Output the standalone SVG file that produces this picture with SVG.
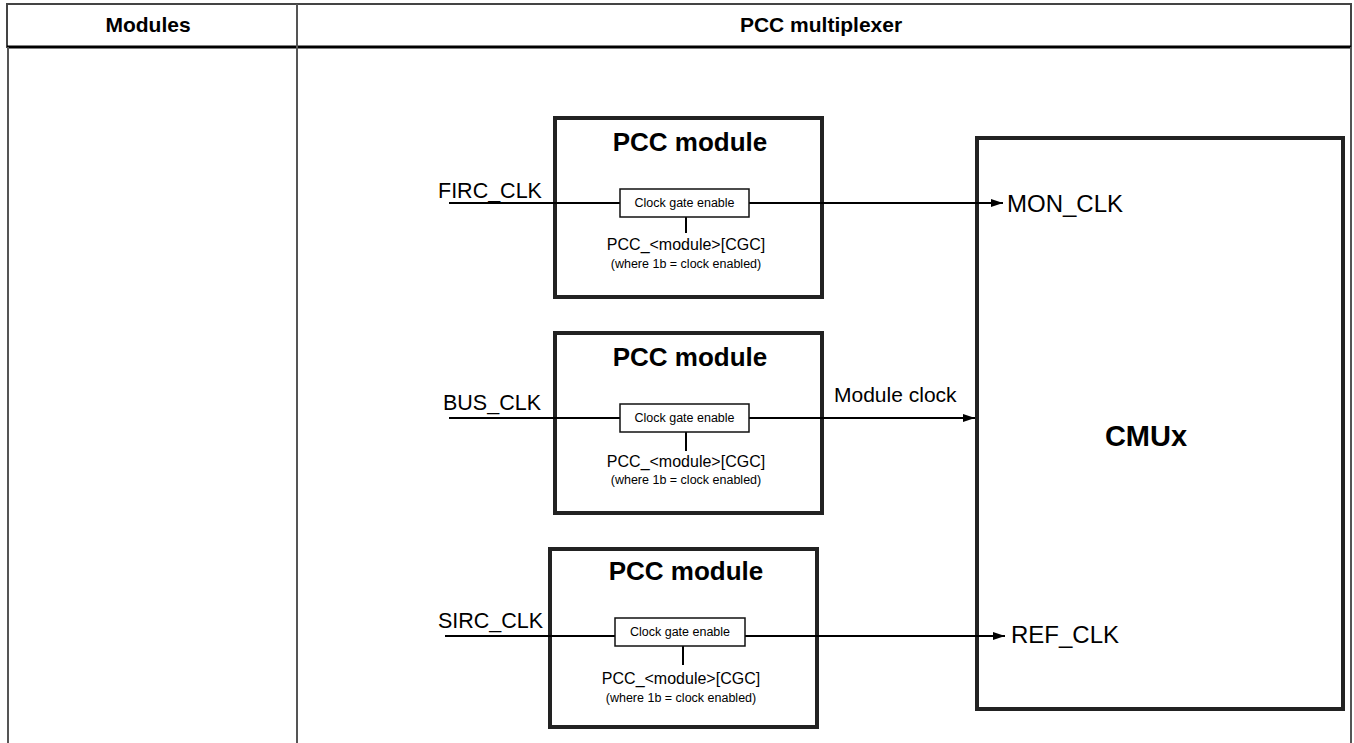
<svg xmlns="http://www.w3.org/2000/svg" width="1354" height="743" viewBox="0 0 1354 743">
<style>
text{font-family:"Liberation Sans",Arial,sans-serif;fill:#000}
.hdr{font-size:21px;font-weight:bold;text-anchor:middle}
.title{font-size:26px;font-weight:bold;text-anchor:middle}
.sig{font-size:21.5px}
.big{font-size:24px}
.gate{font-size:12.5px;text-anchor:middle}
.reg{font-size:16px;text-anchor:middle}
.note{font-size:12.5px;text-anchor:middle}
.box{fill:#fff;stroke:#222;stroke-width:4}
.gbox{fill:#fff;stroke:#111;stroke-width:1.5}
.wire{stroke:#000;stroke-width:2;fill:none}
.tbl{stroke:#555;stroke-width:2;fill:none}
</style>
<defs>
<marker id="arr" markerWidth="12" markerHeight="10" refX="12" refY="5" orient="auto" markerUnits="userSpaceOnUse">
<path d="M0,1 L12,5 L0,9 Z" fill="#000"/>
</marker>
</defs>
<rect width="1354" height="743" fill="#fff"/>
<g id="table">
<rect x="7" y="4" width="1344" height="43" fill="none" stroke="#444" stroke-width="2"/>
<line x1="7" y1="47" x2="1351" y2="47" stroke="#000" stroke-width="3"/>
<line class="tbl" x1="8" y1="47" x2="8" y2="743"/>
<line class="tbl" x1="297" y1="4" x2="297" y2="743"/>
<line class="tbl" x1="1351" y1="47" x2="1351" y2="743"/>
<text class="hdr" x="148" y="32">Modules</text>
<text class="hdr" x="821" y="32">PCC multiplexer</text>
</g>
<g id="pcc1">
<rect class="box" x="555" y="118" width="267" height="179"/>
<text class="title" x="690" y="151">PCC module</text>
</g>
<g id="pcc2">
<rect class="box" x="555" y="333" width="267" height="180"/>
<text class="title" x="690" y="366">PCC module</text>
</g>
<g id="pcc3">
<rect class="box" x="550" y="549" width="267" height="178"/>
<text class="title" x="686" y="580">PCC module</text>
</g>
<g id="cmux">
<rect class="box" x="977" y="138" width="366" height="571"/>
<text x="1146" y="446" style="font-size:29px;font-weight:bold;text-anchor:middle">CMUx</text>
<text class="big" x="1007" y="212">MON_CLK</text>
<text class="big" x="1011" y="643">REF_CLK</text>
</g>
<g id="connectors">
<line class="wire" x1="449" y1="203" x2="1003" y2="203" marker-end="url(#arr)"/>
<line class="wire" x1="449" y1="418" x2="975" y2="418" marker-end="url(#arr)"/>
<line class="wire" x1="445" y1="636" x2="1005" y2="636" stroke-width="2.5" marker-end="url(#arr)"/>
<line class="wire" x1="686" y1="217" x2="686" y2="233"/>
<line class="wire" x1="686" y1="432" x2="686" y2="451"/>
<line class="wire" x1="683" y1="646" x2="683" y2="665"/>
</g>
<g id="labels">
<text class="sig" x="438" y="198">FIRC_CLK</text>
<text class="sig" x="443" y="410">BUS_CLK</text>
<text class="sig" x="438" y="628">SIRC_CLK</text>
<text class="sig" x="834" y="402" style="font-size:21px">Module clock</text>
</g>
<g id="gate1">
<rect class="gbox" x="620" y="189" width="129" height="28"/>
<text class="gate" x="684.5" y="207">Clock gate enable</text>
<text class="reg" x="686" y="250">PCC_&lt;module&gt;[CGC]</text>
<text class="note" x="686" y="268">(where 1b = clock enabled)</text>
</g>
<g id="gate2">
<rect class="gbox" x="620" y="404" width="129" height="28"/>
<text class="gate" x="684.5" y="422">Clock gate enable</text>
<text class="reg" x="686" y="467">PCC_&lt;module&gt;[CGC]</text>
<text class="note" x="686" y="484">(where 1b = clock enabled)</text>
</g>
<g id="gate3">
<rect class="gbox" x="615" y="618" width="130" height="28"/>
<text class="gate" x="680" y="636">Clock gate enable</text>
<text class="reg" x="681" y="684">PCC_&lt;module&gt;[CGC]</text>
<text class="note" x="681" y="702">(where 1b = clock enabled)</text>
</g>
</svg>
